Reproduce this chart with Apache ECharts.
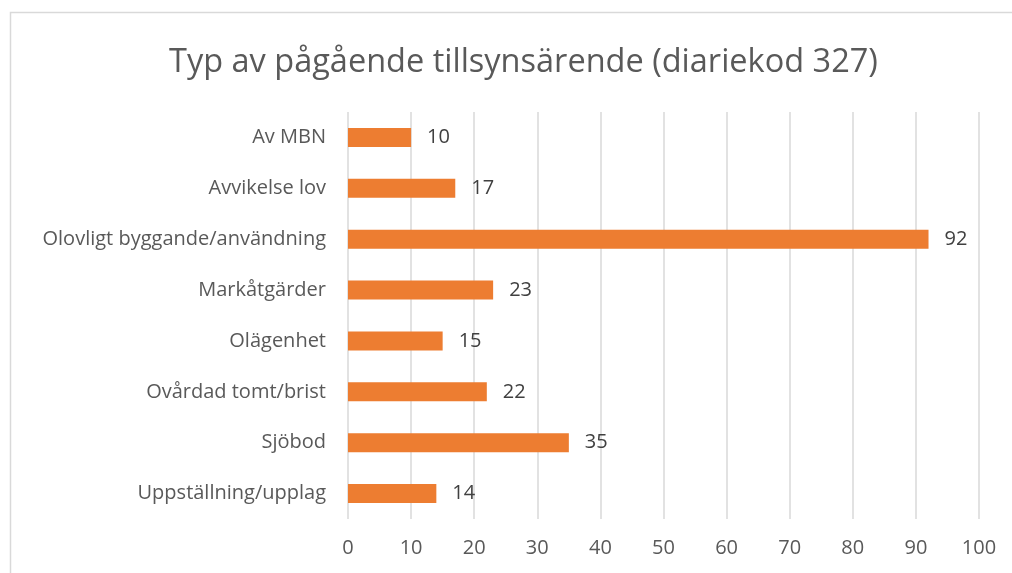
<!DOCTYPE html>
<html>
<head>
<meta charset="utf-8">
<script src="https://cdn.jsdelivr.net/npm/echarts@6/dist/echarts.min.js"></script>
<style>
  html, body { margin: 0; padding: 0; background: #fff; }
  #chart { width: 1012px; height: 573px; }
</style>
</head>
<body>
<div id="chart"></div>
<script>
// data
var categories = [
  "Av MBN",
  "Avvikelse lov",
  "Olovligt byggande/användning",
  "Markåtgärder",
  "Olägenhet",
  "Ovårdad tomt/brist",
  "Sjöbod",
  "Uppställning/upplag"
];
var values = [10, 17, 92, 23, 15, 22, 35, 14];

var chart = echarts.init(document.getElementById("chart"));
var font = "'Open Sans', 'Liberation Sans', sans-serif";

var option = {
  backgroundColor: "#fff",
  animation: false,
  graphic: [
    {
      type: "rect",
      shape: { x: 10.5, y: 12.5, width: 1100, height: 700 },
      style: { fill: "none", stroke: "#d9d9d9", lineWidth: 1.5 },
      silent: true
    }
  ],
  title: {
    text: "Typ av pågående tillsynsärende (diariekod 327)",
    left: 164,
    top: 41,
    textStyle: {
      color: "#595959",
      fontSize: 32.5,
      fontWeight: "normal",
      fontFamily: font
    }
  },
  grid: {
    left: 348,
    right: 33,
    top: 112,
    bottom: 54,
    containLabel: false
  },
  xAxis: {
    type: "value",
    min: 0,
    max: 100,
    interval: 10,
    axisLine: { show: false },
    axisTick: { show: false },
    splitLine: { lineStyle: { color: "#d9d9d9", width: 1.5 } },
    axisLabel: {
      color: "#595959",
      fontSize: 20,
      fontFamily: font,
      margin: 19
    }
  },
  yAxis: {
    type: "category",
    inverse: true,
    data: categories,
    axisLine: { show: false },
    axisTick: { show: false },
    axisLabel: {
      color: "#595959",
      fontSize: 20,
      fontFamily: font,
      margin: 22
    }
  },
  series: [
    {
      type: "bar",
      data: values,
      barWidth: 19,
      itemStyle: { color: "#ED7D31" },
      label: {
        show: true,
        position: "right",
        distance: 16,
        color: "#404040",
        fontSize: 20,
        fontFamily: font
      }
    }
  ]
};

chart.setOption(option);
</script>
</body>
</html>
